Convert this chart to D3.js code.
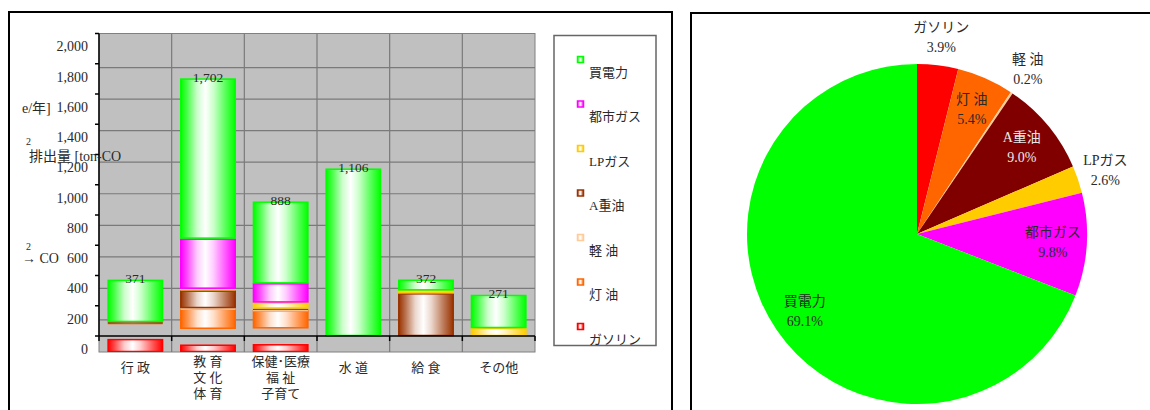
<!DOCTYPE html>
<html><head><meta charset="utf-8">
<script src="https://cdn.jsdelivr.net/npm/d3@7"></script>
<style>
html,body{margin:0;padding:0;background:#fff;}
svg{display:block;}
text{font-family:'Liberation Serif','Noto Sans CJK JP',serif;fill:#2a2a2a;}
</style></head>
<body>
<svg id="c" width="1150" height="410"></svg>
<script>
// ---------- data ----------
const categories = ["行 政", "教 育\n文 化\n体 育", "保健･医療\n福 祉\n子育て", "水 道", "給 食", "その他"];
const seriesNames = ["買電力", "都市ガス", "LPガス", "A重油", "軽 油", "灯 油", "ガソリン"];
const seriesColors = ["#00FF00", "#FF00FF", "#FFCC00", "#993300", "#FFCC99", "#FF6600", "#FF0000"];
const electricity = [278, 1058, 540, 1106, 70, 218];
const cityGas     = [0, 331, 126, 0, 0, 0];
const lpGas       = [0, 13, 40, 0, 20, 53];
const heavyOilA   = [5, 115, 8, 0, 282, 0];
const lightOil    = [0, 5, 4, 0, 0, 0];
const kerosene    = [3, 132, 119, 0, 0, 0];
const gasoline    = [85, 48, 51, 0, 0, 0];
const yTicks = [0, 200, 400, 600, 800, 1000, 1200, 1400, 1600, 1800, 2000];

const pieNames  = ["ガソリン", "灯 油", "軽 油", "A重油", "LPガス", "都市ガス", "買電力"];
const pieValues = [3.9, 5.4, 0.2, 9.0, 2.6, 9.8, 69.1];
const pieColors = ["#FF0000", "#FF6600", "#FFCC99", "#800000", "#FFCC00", "#FF00FF", "#00FF00"];
const pieTextColors = ["#2a2a2a", "#2a2a2a", "#2a2a2a", "#e8e8e8", "#2a2a2a", "#2a2a2a", "#2a2a2a"];

// stacking order bottom -> top
const stackSeries = [gasoline, kerosene, lightOil, heavyOilA, lpGas, cityGas, electricity];
const stackColors = ["#FF0000", "#FF6600", "#FFCC99", "#993300", "#FFCC00", "#FF00FF", "#00FF00"];

// ---------- drawing ----------
const svg = d3.select("#c");
svg.append("rect").attr("width",1150).attr("height",410).attr("fill","#fff");

// frames
svg.append("rect").attr("x",9).attr("y",12).attr("width",663).attr("height",420)
  .attr("fill","none").attr("stroke","#000").attr("stroke-width",2);
svg.append("rect").attr("x",691).attr("y",13).attr("width",480).attr("height",420)
  .attr("fill","none").attr("stroke","#000").attr("stroke-width",2);

const plotL = 99, plotR = 535, plotT = 33.5, axisY = 336, plotB = 352;
const x = d3.scaleBand().domain(categories).range([plotL, plotR]).paddingInner(0.23).paddingOuter(0.115);
const y = d3.scaleLinear().domain([0, 2000]).range([axisY, plotT]);
const yGrid = d3.scaleLinear().domain([0, 2000]).range([plotB - 0.5, 36]);

const defs = svg.append("defs");
function grad(id, c) {
  const g = defs.append("linearGradient").attr("id", id).attr("x1","0%").attr("x2","100%").attr("y1","0%").attr("y2","0%");
  const mix = t => d3.interpolateRgb(c, "#fff")(t);
  [[0,0],[0.12,0.3],[0.3,0.8],[0.45,1],[0.6,0.8],[0.82,0.35],[1,0]].forEach(([o,t]) =>
    g.append("stop").attr("offset", (o*100)+"%").attr("stop-color", mix(t)));
}
stackColors.forEach((c,i)=>grad("g"+i, c));
seriesColors.forEach((c,i)=>grad("lg"+i, c));

// plot background
svg.append("rect").attr("x",plotL).attr("y",plotT).attr("width",plotR-plotL).attr("height",plotB-plotT)
  .attr("fill","#C0C0C0").attr("stroke","#808080").attr("stroke-width",1);

// horizontal gridlines
svg.append("g").selectAll("line").data(yTicks.filter(v=>v>0 && v<2000)).join("line")
  .attr("x1",plotL).attr("x2",plotR).attr("y1",d=>yGrid(d)).attr("y2",d=>yGrid(d))
  .attr("stroke","#7a7a7a").attr("stroke-width",1.2);
// vertical gridlines
const step = x.step();
const bounds = d3.range(1, categories.length).map(i => plotL + i*step);
svg.append("g").selectAll("line").data(bounds).join("line")
  .attr("x1",d=>d).attr("x2",d=>d).attr("y1",plotT).attr("y2",plotB)
  .attr("stroke","#7a7a7a").attr("stroke-width",1.2);

// clip for bars
defs.append("clipPath").attr("id","plotclip").append("rect")
  .attr("x",plotL).attr("y",plotT).attr("width",plotR-plotL).attr("height",plotB-plotT);

const stack = d3.stack().keys(d3.range(stackSeries.length))
  .value((d,k)=>stackSeries[k][d])(d3.range(categories.length));

const barG = svg.append("g").attr("clip-path","url(#plotclip)");
stack.forEach((layer, k) => {
  layer.forEach((seg, i) => {
    const v = seg[1]-seg[0];
    if (v <= 0) return;
    const h = y(seg[0]) - y(seg[1]);
    let yy = y(seg[1]);
    if (k === 0) yy = plotB - h; // gasoline drawn at plot bottom (as in reference)
    barG.append("rect")
      .attr("x", x(categories[i]) + 0.75).attr("y", yy + 0.5)
      .attr("width", x.bandwidth() - 1.5).attr("height", Math.max(h - 1, 0.8))
      .attr("fill", "url(#g"+k+")")
      .attr("stroke", stackColors[k]).attr("stroke-width", h > 3 ? 1.5 : 0.6);
  });
});

// axes lines
svg.append("line").attr("x1",plotL).attr("x2",plotR).attr("y1",axisY).attr("y2",axisY)
  .attr("stroke","#000").attr("stroke-width",1.5);
svg.append("line").attr("x1",plotL).attr("x2",plotL).attr("y1",plotT).attr("y2",axisY)
  .attr("stroke","#000").attr("stroke-width",1.5);
svg.append("g").selectAll("line").data(yTicks).join("line")
  .attr("x1",plotL-4).attr("x2",plotL).attr("y1",d=>y(d)).attr("y2",d=>y(d))
  .attr("stroke","#000").attr("stroke-width",1.5);
svg.append("g").selectAll("line").data([plotL, ...bounds, plotR]).join("line")
  .attr("x1",d=>d).attr("x2",d=>d).attr("y1",axisY).attr("y2",axisY+5)
  .attr("stroke","#000").attr("stroke-width",1.5);

// y tick labels (offset below their ticks, as in reference)
svg.append("g").selectAll("text").data(yTicks).join("text")
  .attr("x",88).attr("y",d=>y(d)+13).attr("dy","0.35em").attr("text-anchor","end")
  .attr("font-size",14).text(d3.format(","));

// total labels
const totals = d3.range(categories.length).map(i => d3.sum(stackSeries, s => s[i]));
svg.append("g").selectAll("text").data(totals).join("text")
  .attr("x",(d,i)=>x(categories[i]) + x.bandwidth()/2).attr("y",d=>y(d)+3)
  .attr("text-anchor","middle").attr("font-size",13.5).text(d3.format(","));

// category labels
categories.forEach(c => {
  const lines = c.split("\n");
  const t = svg.append("text").attr("x", x(c)+x.bandwidth()/2).attr("text-anchor","middle").attr("font-size",13);
  const y0 = lines.length === 1 ? 367 : 361;
  lines.forEach((l, j) => t.append("tspan").attr("x", x(c)+x.bandwidth()/2).attr("y", y0 + j*16).attr("dy","0.35em").text(l));
});

// y axis title (broken layout as in reference)
const tt = [["e/年]", 22, 108, 14], ["2", 26, 141, 10], ["排出量 [ton-CO", 29, 156, 14], ["2", 26, 246, 10], ["→ CO", 22, 258, 14]];
tt.forEach(([s, tx, ty, fs]) => svg.append("text").attr("x",tx).attr("y",ty).attr("dy","0.35em").attr("font-size",fs).text(s));

// legend
svg.append("rect").attr("x",554).attr("y",35.5).attr("width",102).attr("height",310)
  .attr("fill","#fff").attr("stroke","#666").attr("stroke-width",1.5);
const lg = svg.append("g").selectAll("g").data(seriesNames).join("g")
  .attr("transform",(d,i)=>`translate(577,${56 + i*44.5})`);
lg.append("rect").attr("x",0.5).attr("y",0.5).attr("width",6).attr("height",6)
  .attr("fill",(d,i)=>"url(#lg"+i+")").attr("stroke",(d,i)=>seriesColors[i]).attr("stroke-width",1.5);
lg.append("text").attr("x",12).attr("y",16).attr("dy","0.35em").attr("font-size",13).text(d=>d);

// ---------- pie ----------
const cx = 917, cy = 234, R = 170;
const pie = d3.pie().sort(null).value(d=>d)(pieValues);
const arc = d3.arc().innerRadius(0).outerRadius(R);
const pg = svg.append("g").attr("transform",`translate(${cx},${cy})`);
pg.selectAll("path").data(pie).join("path").attr("d",arc).attr("fill",(d,i)=>pieColors[i]);

pie.forEach((d,i) => {
  const a = (d.startAngle + d.endAngle)/2;
  const rr = pieValues[i] < 5 ? R*1.17 : R*0.8;
  const lx = Math.sin(a)*rr, ly = -Math.cos(a)*rr;
  const t = pg.append("text").attr("text-anchor","middle").attr("font-size",14).style("fill", pieTextColors[i]);
  t.append("tspan").attr("x",lx).attr("y",ly-10).attr("dy","0.35em").text(pieNames[i]);
  t.append("tspan").attr("x",lx).attr("y",ly+10).attr("dy","0.35em").text(d3.format(".1f")(pieValues[i])+"%");
});
</script>
</body></html>
